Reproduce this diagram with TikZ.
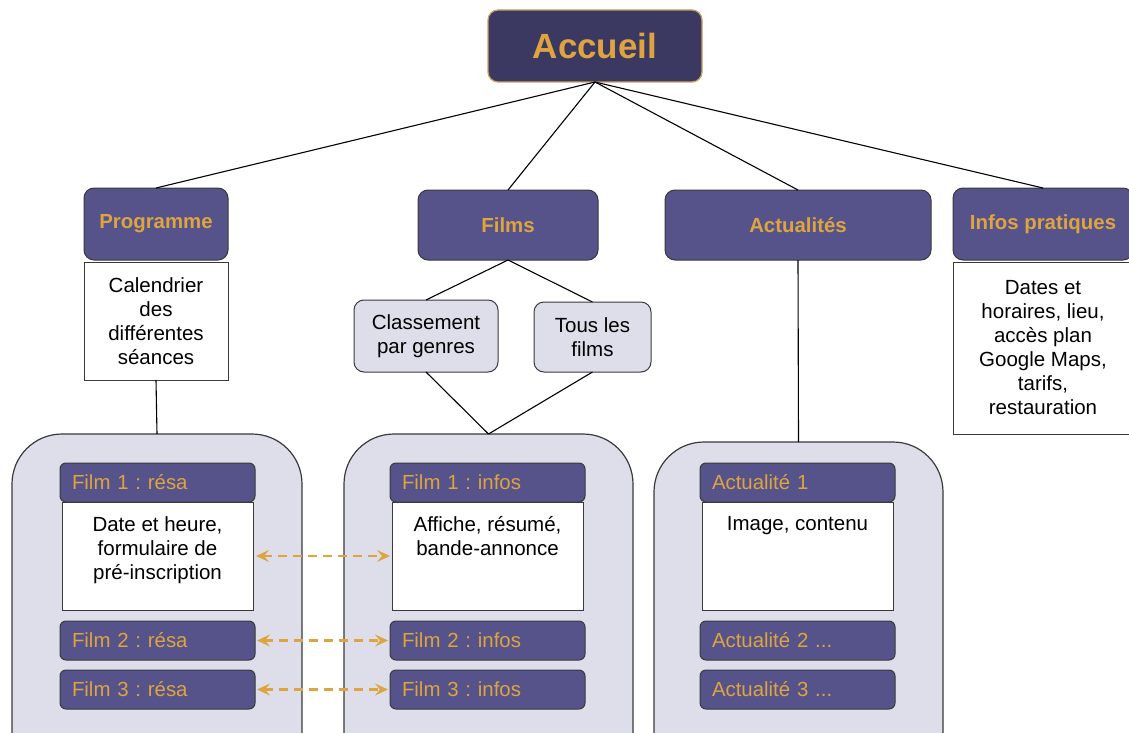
\documentclass[tikz,border=0pt]{standalone}
\usepackage{fontspec}
\setmainfont{Liberation Sans}
\usetikzlibrary{arrows.meta}
\frenchspacing
\definecolor{navy}{HTML}{3B3961}
\definecolor{purp}{HTML}{55538A}
\definecolor{gold}{HTML}{DDA43F}
\definecolor{goldedge}{HTML}{C9A15E}
\definecolor{lav}{HTML}{DEDEEB}
\definecolor{edgec}{HTML}{3A3A3A}
\begin{document}
\begin{tikzpicture}[x=1pt,y=-1pt,
  box/.style={anchor=north west,inner sep=0pt,outer sep=0pt,align=center},
  topbox/.style={box,rounded corners=10pt,fill=navy,draw=goldedge,line width=1.3pt,text=gold,
    font=\bfseries\fontsize{35}{40}\selectfont},
  headbox/.style={box,rounded corners=10pt,fill=purp,draw=edgec,line width=1pt,text=gold,
    font=\bfseries\fontsize{20.4}{24}\selectfont},
  wbox/.style={box,fill=white,draw=edgec,line width=1pt,font=\fontsize{20.5}{24}\selectfont},
  subbox/.style={box,rounded corners=10pt,fill=lav,draw=edgec,line width=1pt,font=\fontsize{20.5}{24.5}\selectfont},
  contbox/.style={box,rounded corners=50pt,fill=lav,draw=edgec,line width=1.2pt},
  itembox/.style={box,rounded corners=6pt,fill=purp,draw=edgec,line width=1pt,text=gold,
    minimum width=195pt,minimum height=39pt,text width=171pt,align=left,inner xsep=12pt,
    font=\fontsize{20.4}{24}\selectfont},
  ibox/.style={box,fill=white,draw=edgec,line width=1pt,minimum width=191pt,minimum height=108pt},
  itext/.style={anchor=north,yshift=-11pt,align=center,font=\fontsize{20.5}{24}\selectfont},
  link/.style={draw=black,line width=1.1pt},
  dlink/.style={draw=gold,line width=2.2pt,dash pattern=on 9pt off 6pt,
    {Stealth[length=13pt,width=12pt,inset=5pt]}-{Stealth[length=13pt,width=12pt,inset=5pt]}}
]
\useasboundingbox (0,0) rectangle (1129,733);
\clip (0,0) rectangle (1129,733);

% top level
\node[topbox,minimum width=214pt,minimum height=72pt] (acc) at (488,10) {Accueil};
\node[headbox,minimum width=144pt,minimum height=72pt] (prog) at (84,188) {Programme};
\node[headbox,minimum width=180pt,minimum height=70pt] (films) at (418,190) {Films};
\node[headbox,minimum width=266pt,minimum height=70pt] (actu) at (665,190) {Actualités};
\node[headbox,minimum width=180pt,minimum height=72pt] (infos) at (953,188) {Infos pratiques};

\node[wbox,minimum width=144pt,minimum height=118pt] (cal) at (84,262) {Calendrier\\des\\différentes\\séances};
\node[wbox,minimum width=180pt,minimum height=172pt] (infot) at (953,262) {Dates et\\horaires, lieu,\\accès plan\\Google Maps,\\tarifs,\\restauration};

\node[subbox,minimum width=144pt,minimum height=72pt] (class) at (354,300) {Classement\\par genres};
\node[subbox,minimum width=117pt,minimum height=70pt] (tous) at (534,302) {Tous les\\films};

% containers
\node[contbox,minimum width=290pt,minimum height=360pt] (contL) at (12,434) {};
\node[contbox,minimum width=289pt,minimum height=360pt] (contM) at (344,434) {};
\node[contbox,minimum width=289pt,minimum height=360pt] (contR) at (654,442) {};

% left items
\node[ibox,label={[itext]north:{Date et heure,\\formulaire de\\pré-inscription}}] (wL) at (62,502) {};
\node[itembox] (f1L) at (60,463) {Film 1 : résa};
\node[itembox] (f2L) at (60,621) {Film 2 : résa};
\node[itembox] (f3L) at (60,670) {Film 3 : résa};

% middle items
\node[ibox,label={[itext]north:{Affiche, résumé,\\bande-annonce}}] (wM) at (392,502) {};
\node[itembox] (f1M) at (390,463) {Film 1 : infos};
\node[itembox] (f2M) at (390,621) {Film 2 : infos};
\node[itembox] (f3M) at (390,670) {Film 3 : infos};

% right items
\node[ibox,label={[itext]north:{Image, contenu}}] (wR) at (702,502) {};
\node[itembox] (a1) at (700,463) {Actualité 1};
\node[itembox] (a2) at (700,621) {Actualité 2 ...};
\node[itembox] (a3) at (700,670) {Actualité 3 ...};

% connectors
\draw[link] (acc.south) -- (prog.north);
\draw[link] (acc.south) -- (films.north);
\draw[link] (acc.south) -- (actu.north);
\draw[link] (acc.south) -- (infos.north);
\draw[link] (films.south) -- (class.north);
\draw[link] (films.south) -- (tous.north);
\draw[link] (class.south) -- (contM.north);
\draw[link] (tous.south) -- (contM.north);
\draw[link] (cal.south) -- (contL.north);
\draw[link] (actu.south) -- (contR.north);

% dashed arrows
\draw[dlink,shorten <=3pt,shorten >=2pt] (wL.east) -- (wM.west);
\draw[dlink,shorten <=2pt,shorten >=2pt] (f2L.east) -- (f2M.west);
\draw[dlink,shorten <=2pt,shorten >=2pt] (f3L.east) -- (f3M.west);
\end{tikzpicture}
\end{document}
